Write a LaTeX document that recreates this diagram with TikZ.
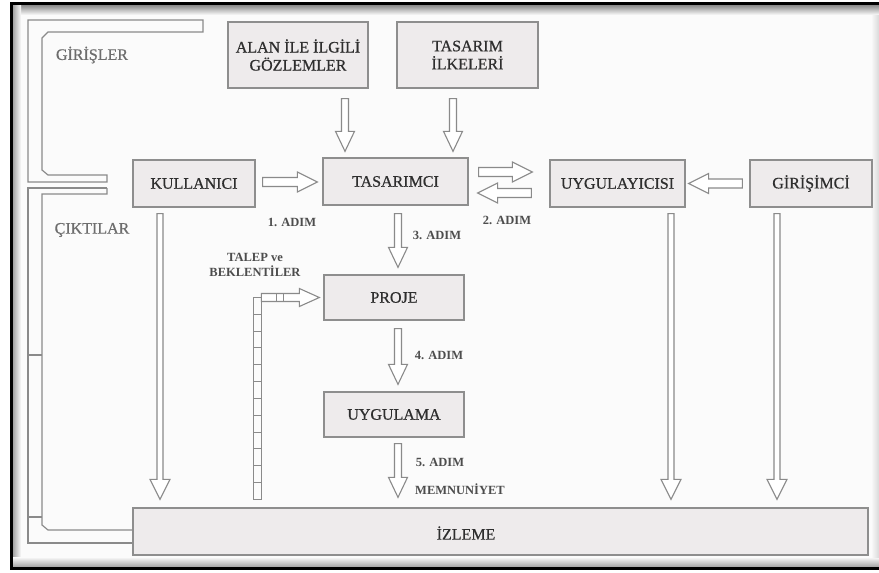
\documentclass[tikz,border=0pt]{standalone}
\usepackage{fontspec}
\setmainfont{Liberation Serif}
\newfontfamily\boxfont[FakeBold=0.6]{Liberation Serif}
\usetikzlibrary{calc}

\definecolor{boxfill}{HTML}{EEEBEC}
\definecolor{boxline}{HTML}{8E8E8E}
\definecolor{inkcol}{HTML}{2E2E2E}
\definecolor{pagebg}{HTML}{FBFBFB}
\definecolor{arrowline}{HTML}{8A8A8A}

\tikzset{
  stage/.style={draw=boxline, fill=boxfill, line width=1.3pt, inner sep=0pt,
    font=\boxfont\fontsize{16}{18}\selectfont, text=inkcol, align=center},
  steplabel/.style={font=\bfseries\fontsize{12.5}{15}\selectfont, text=inkcol!85,
    inner sep=0pt, align=center},
  sidelabel/.style={font=\boxfont\fontsize{16}{18}\selectfont, text=inkcol!70, inner sep=0pt},
  harrow/.style={draw=arrowline, fill=white, line width=1.1pt, line join=miter},
  channel/.style={draw=arrowline, line width=1.2pt}
}

% hollow block arrow: start, tip, half shaft width, half head width
\newcommand\hollowarrow[4]{%
  \coordinate (hb) at ($(#2)!20pt!(#1)$);
  \draw[harrow] ($(#1)!#3!90:(#2)$) -- ($(hb)!#3!-90:(#1)$) -- ($(hb)!#4!-90:(#1)$)
    -- (#2) -- ($(hb)!#4!90:(#1)$) -- ($(hb)!#3!90:(#1)$) -- ($(#1)!#3!-90:(#2)$) -- cycle;
}

\begin{document}
\begin{tikzpicture}[x=1pt, y=-1pt]
  \useasboundingbox (0,0) rectangle (879,573);

  % page and frame
  \fill[white] (0,0) rectangle (879,573);
  \fill[pagebg] (10,3) rectangle (879,569);
  \shade[top color=black!50, bottom color=pagebg] (12,4) rectangle (879,15);
  \shade[left color=black!40, right color=pagebg] (12,4) rectangle (21,568);
  \shade[top color=pagebg, bottom color=black!40] (12,557) rectangle (879,568);
  \shade[left color=pagebg, right color=black!15] (871,15) rectangle (879,557);
  \draw[black, line width=3pt] (879,3) -- (11,3) -- (11,568) -- (879,568);

  % boxes
  \node[stage, minimum width=140pt, minimum height=66pt] (alan) at (298,55) {ALAN İLE İLGİLİ\\GÖZLEMLER};
  \node[stage, minimum width=141pt, minimum height=66pt] (ilke) at (467.5,55) {TASARIM\\İLKELERİ};
  \node[stage, minimum width=122pt, minimum height=47pt] (kul) at (194,183.5) {KULLANICI};
  \node[stage, minimum width=145pt, minimum height=47pt] (tas) at (395.5,181.5) {TASARIMCI};
  \node[stage, minimum width=135pt, minimum height=47pt] (uyg) at (617.5,183.5) {UYGULAYICISI};
  \node[stage, minimum width=122pt, minimum height=47pt] (gir) at (811,183.5) {GİRİŞİMCİ};
  \node[stage, minimum width=140pt, minimum height=45pt] (proje) at (394,297.5) {PROJE};
  \node[stage, minimum width=140pt, minimum height=45pt] (uyla) at (394,414.5) {UYGULAMA};
  \node[stage, minimum width=735pt, minimum height=47pt] (izl) at (500.5,531.5) {};
  \node[stage, draw=none, fill=none] (izltxt) at (466,533) {İZLEME};

  % input / output channels on the left
  \draw[channel] (203,20) -- (28,20) -- (28,182) -- (107,182) -- (107,175) -- (48,175) -- (42,170)
    -- (42,38) -- (48,32) -- (203,32) -- cycle;
  \draw[channel] (107,188) -- (28,188) -- (28,543) -- (izl.west |- 0,543);
  \draw[channel] (107,188) -- (107,194) -- (42,194) -- (42,525) -- (48,530) -- (izl.west |- 0,530);
  \draw[channel] (28,355) -- (42,355);
  \draw[channel] (28,517) -- (42,517);

  \node[sidelabel] (girisler) at (92,55) {GİRİŞLER};
  \node[sidelabel] (ciktilar) at (92,230) {ÇIKTILAR};

  % arrows into the designer
  \coordinate (p1) at ($(alan.south)+(47,10)$);
  \coordinate (q1) at ($(p1 |- tas.north)+(0,-6)$);
  \hollowarrow{p1}{q1}{3.5pt}{9.5pt}
  \coordinate (p2) at ($(ilke.south)+(-14.5,10)$);
  \coordinate (q2) at ($(p2 |- tas.north)+(0,-6)$);
  \hollowarrow{p2}{q2}{3.5pt}{9.5pt}
  \coordinate (p3) at ($(kul.east)+(7,-1.5)$);
  \coordinate (q3) at ($(p3 -| tas.west)+(-5,0)$);
  \hollowarrow{p3}{q3}{4.5pt}{10pt}

  % designer <-> contractor
  \coordinate (p4) at ($(tas.east)+(10,-9.5)$);
  \coordinate (q4) at ($(p4 -| uyg.west)+(-17,0)$);
  \hollowarrow{p4}{q4}{4.5pt}{10pt}
  \coordinate (p5) at ($(uyg.west)+(-18,9.5)$);
  \coordinate (q5) at ($(p5 -| tas.east)+(9,0)$);
  \hollowarrow{p5}{q5}{4.5pt}{10pt}
  \coordinate (p6) at ($(gir.west)+(-7,0)$);
  \coordinate (q6) at ($(uyg.east)+(3,0)$);
  \hollowarrow{p6}{q6}{4.5pt}{10pt}

  % main steps
  \coordinate (p7) at ($(tas.south)+(2.5,8)$);
  \coordinate (q7) at ($(p7 |- proje.north)+(0,-7)$);
  \hollowarrow{p7}{q7}{3.5pt}{9.5pt}
  \coordinate (p8) at ($(proje.south)+(4,8)$);
  \coordinate (q8) at ($(p8 |- uyla.north)+(0,-7)$);
  \hollowarrow{p8}{q8}{3.5pt}{9.5pt}
  \coordinate (p9) at ($(uyla.south)+(4,6)$);
  \coordinate (q9) at ($(p9 |- izl.north)+(0,-10)$);
  \hollowarrow{p9}{q9}{3.5pt}{9.5pt}

  % long arrows down to monitoring
  \coordinate (p10) at ($(kul.south)+(-34,6)$);
  \coordinate (q10) at ($(p10 |- izl.north)+(0,-8)$);
  \hollowarrow{p10}{q10}{3pt}{10pt}
  \coordinate (p11) at ($(uyg.south)+(53.5,6)$);
  \coordinate (q11) at ($(p11 |- izl.north)+(0,-8)$);
  \hollowarrow{p11}{q11}{3pt}{10pt}
  \coordinate (p12) at ($(gir.south)+(-34,6)$);
  \coordinate (q12) at ($(p12 |- izl.north)+(0,-8)$);
  \hollowarrow{p12}{q12}{3pt}{10pt}

  % requests and expectations feedback
  \coordinate (tt) at ($(proje.west)+(-66,0)$);
  \coordinate (tb) at ($(tt |- izl.north)+(0,-8)$);
  \draw[channel, line width=1pt] ($(tt)+(-4,0)$) rectangle ($(tb)+(4,0)$);
  \foreach \k in {1,...,11}
    \draw[channel, line width=1pt] ($(tt)!\k/12!(tb)+(-4,0)$) -- ++(8,0);
  \coordinate (ts) at ($(tt)+(4,0)$);
  \coordinate (te) at ($(proje.west)+(-4,0)$);
  \hollowarrow{ts}{te}{4pt}{9pt}
  \draw[channel, line width=1pt] ($(ts)+(15,-4)$) -- ++(0,8);
  \draw[channel, line width=1pt] ($(ts)+(22,-4)$) -- ++(0,8);

  % step labels
  \node[steplabel] (s1) at (292,222) {1. ADIM};
  \node[steplabel] (s2) at (507,220) {2. ADIM};
  \node[steplabel] (s3) at (437,235) {3. ADIM};
  \node[steplabel] (s4) at (439,355) {4. ADIM};
  \node[steplabel] (s5) at (440,462) {5. ADIM};
  \node[steplabel] (memn) at (460,489) {MEMNUNİYET};
  \node[steplabel] (talep) at (255,265) {TALEP ve\\BEKLENTİLER};
\end{tikzpicture}
\end{document}
